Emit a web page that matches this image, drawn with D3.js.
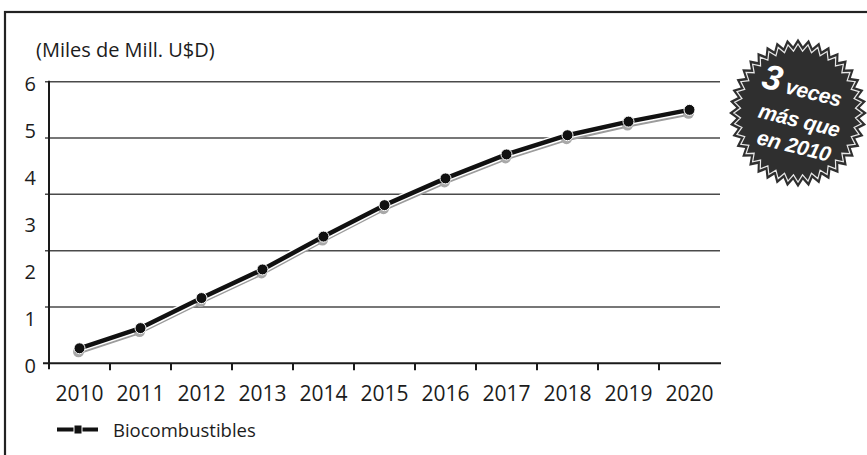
<!DOCTYPE html>
<html>
<head>
<meta charset="utf-8">
<script src="https://cdn.jsdelivr.net/npm/d3@7"></script>
<style>
  html, body { margin: 0; padding: 0; background: #fff; }
  svg { display: block; }
  text { font-family: "Open Sans", "Noto Sans", sans-serif; fill: #1c1c1c; }
</style>
</head>
<body>
<svg id="chart" width="867" height="455"></svg>
<script>
// Biofuel market, thousands of millions of US dollars
const years = [2010, 2011, 2012, 2013, 2014, 2015, 2016, 2017, 2018, 2019, 2020];
const values = [0.32, 0.75, 1.39, 2.00, 2.70, 3.37, 3.94, 4.45, 4.86, 5.15, 5.40];
const yTickLabels = [0, 1, 2, 3, 4, 5, 6];
// horizontal rules split the 0–6 range into five equal bands
const gridValues = [0, 1.2, 2.4, 3.6, 4.8, 6];
const unitLabel = "(Miles de Mill. U$D)";
const seriesName = "Biocombustibles";
const badgeLines = [["3", " veces"], ["más que"], ["en 2010"]];

const svg = d3.select("#chart");

// outer frame (left and top edges visible)
svg.append("rect")
  .attr("x", 5).attr("y", 12)
  .attr("width", 1000).attr("height", 600)
  .attr("fill", "none").attr("stroke", "#222").attr("stroke-width", 2.2);

const x = d3.scaleBand().domain(years).range([49, 720]);
const y = d3.scaleLinear().domain([0, 6]).range([363.3, 81.7]);
const cx = d => x(d) + x.bandwidth() / 2;

// grid rules
svg.append("g").selectAll("line").data(gridValues.slice(1)).join("line")
  .attr("x1", 45).attr("x2", 720)
  .attr("y1", d => y(d)).attr("y2", d => y(d))
  .attr("stroke", "#4a4a4a").attr("stroke-width", 1.5);

// y axis: ticks on the rules, labels on whole units
const yAxis = svg.append("g");
yAxis.append("line")
  .attr("x1", 49).attr("x2", 49)
  .attr("y1", y(6) - 1).attr("y2", y(0) + 6)
  .attr("stroke", "#1a1a1a").attr("stroke-width", 2);
yAxis.selectAll("text").data(yTickLabels).join("text")
  .attr("x", 36).attr("y", d => y(d) + 2)
  .attr("dy", "0.36em")
  .attr("text-anchor", "end")
  .style("font-size", "20px")
  .text(d => d);

// x axis
const xAxis = svg.append("g");
xAxis.append("line")
  .attr("x1", 43).attr("x2", 721)
  .attr("y1", y(0)).attr("y2", y(0))
  .attr("stroke", "#1a1a1a").attr("stroke-width", 2);
xAxis.selectAll("line.tick").data(years.slice(1)).join("line")
  .attr("class", "tick")
  .attr("x1", d => x(d)).attr("x2", d => x(d))
  .attr("y1", y(0)).attr("y2", y(0) + 7)
  .attr("stroke", "#1a1a1a").attr("stroke-width", 2);
xAxis.selectAll("text").data(years).join("text")
  .attr("x", d => cx(d)).attr("y", 401)
  .attr("text-anchor", "middle")
  .style("font-size", "21px")
  .text(d => d);

// unit label
svg.append("text")
  .attr("x", 36).attr("y", 57)
  .style("font-size", "20px")
  .text(unitLabel);

// series line with a light offset shadow
const pts = years.map((yr, i) => [cx(yr), y(values[i])]);
const line = d3.line();
const series = svg.append("g");
series.append("path")
  .attr("d", line(pts))
  .attr("transform", "translate(-1,3.5)")
  .attr("fill", "none").attr("stroke", "#9c9c9c").attr("stroke-width", 5)
  .attr("stroke-linejoin", "round");
series.append("path")
  .attr("d", line(pts))
  .attr("fill", "none").attr("stroke", "#fff").attr("stroke-width", 7.5)
  .attr("stroke-linejoin", "round");
series.selectAll("circle.sh").data(pts).join("circle")
  .attr("class", "sh")
  .attr("cx", d => d[0] - 1).attr("cy", d => d[1] + 3.5)
  .attr("r", 5.5).attr("fill", "#a8a8a8");
series.append("path")
  .attr("d", line(pts))
  .attr("fill", "none").attr("stroke", "#111").attr("stroke-width", 4.5)
  .attr("stroke-linejoin", "round");
series.selectAll("circle.pt").data(pts).join("circle")
  .attr("class", "pt")
  .attr("cx", d => d[0]).attr("cy", d => d[1])
  .attr("r", 5.5).attr("fill", "#111")
  .attr("stroke", "#fff").attr("stroke-width", 1);

// legend
const legend = svg.append("g").attr("transform", "translate(57,429.5)");
legend.append("line")
  .attr("x1", 0).attr("x2", 41).attr("y1", 0).attr("y2", 0)
  .attr("stroke", "#111").attr("stroke-width", 4);
legend.append("rect")
  .attr("x", 17).attr("y", -4.5).attr("width", 8).attr("height", 9)
  .attr("fill", "#111").attr("stroke", "#fff").attr("stroke-width", 1);
legend.append("text")
  .attr("x", 56).attr("y", 7.5)
  .style("font-size", "18.5px")
  .text(seriesName);

// starburst badge
const badge = svg.append("g").attr("transform", "translate(798,113)");
const spikes = 40;
const starPts = d3.range(spikes * 2).map(i => [
  (i / (spikes * 2)) * 2 * Math.PI,
  i % 2 === 0 ? 69 : 62
]);
const star = d3.lineRadial().curve(d3.curveLinearClosed);
badge.append("path")
  .attr("d", star(starPts))
  .attr("transform", "scale(1,1.08)")
  .attr("fill", "#2f2f2f");
badge.append("path")
  .attr("d", star(starPts))
  .attr("transform", "scale(0.93,1.0)")
  .attr("fill", "none").attr("stroke", "#e8e8e8").attr("stroke-width", 1.3);

const badgeText = badge.append("g").attr("transform", "rotate(14)");
const lineY = [-16, 14, 40];
badgeLines.forEach((parts, i) => {
  const t = badgeText.append("text")
    .attr("x", i === 0 ? -2 : (i === 1 ? 3 : 4))
    .attr("y", lineY[i])
    .attr("text-anchor", "middle")
    .style("font-family", "'Liberation Sans', Arial, sans-serif")
    .style("font-weight", "bold")
    .style("font-style", "italic")
    .style("font-size", "21px")
    .style("letter-spacing", "-0.3px")
    .style("fill", "#fff");
  parts.forEach((p, j) => {
    const s = t.append("tspan").text(p).style("fill", "#fff");
    if (i === 0 && j === 0) s.style("font-size", "35px");
  });
});
</script>
</body>
</html>
